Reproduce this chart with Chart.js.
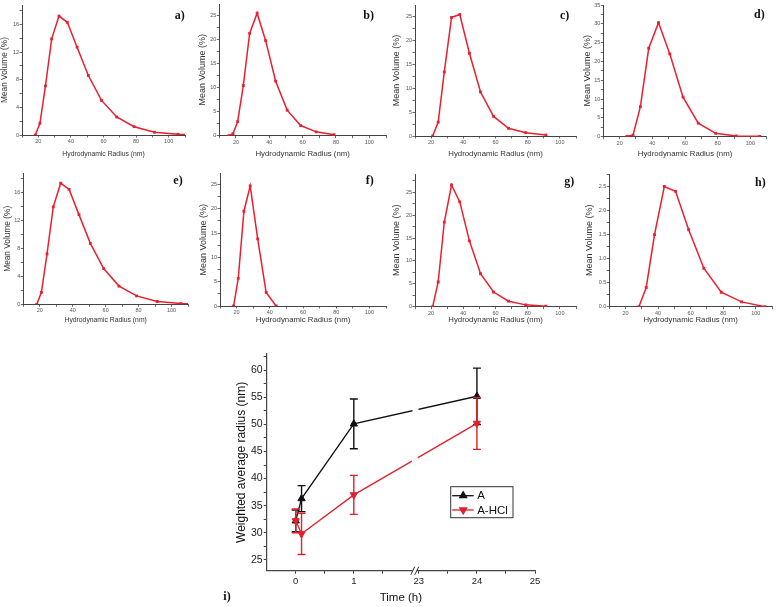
<!DOCTYPE html>
<html lang="en">
<head>
<meta charset="UTF-8" />
<title>Size distributions and weighted average radius</title>
<style>
  body { margin: 0; background: #fff; width: 776px; height: 607px; overflow: hidden; position: relative; }
  canvas { position: absolute; }
</style>
</head>
<body>
<script src="https://cdn.jsdelivr.net/npm/chart.js"></script>
<script>
// ---- data ----
const radiusBins = [15.7, 18.2, 21.0, 24.4, 28.2, 32.7, 37.8, 43.8, 50.7, 58.8, 68.1, 78.8, 91.3, 105.7, 122.4];
const volumeA = [null, 0, 1.7, 7.1, 13.9, 17.2, 16.3, 12.7, 8.6, 5.0, 2.6, 1.2, 0.4, 0.1, 0];
const volumeB = [0, 0.4, 2.9, 10.4, 21.2, 25.4, 19.7, 11.3, 5.3, 2.1, 0.8, 0.2, null, null, null];
const volumeC = [null, null, 0, 2.9, 13.4, 24.8, 25.4, 17.3, 9.2, 4.1, 1.6, 0.7, 0.2, null, null];
const volumeD = [null, null, null, 0.1, 0.4, 8.0, 23.5, 30.3, 22.0, 10.5, 3.6, 0.9, 0.2, 0.1, null];
const volumeE = [null, 0, 1.7, 7.2, 13.9, 17.3, 16.4, 12.8, 8.7, 5.1, 2.6, 1.2, 0.4, 0.1, 0];
const volumeF = [null, 0, 5.7, 19.5, 24.7, 13.8, 2.8, 0, null, null, null, null, null, null, null];
const volumeG = [null, null, 0, 5.4, 18.5, 26.6, 22.9, 14.4, 7.2, 3.2, 1.2, 0.4, 0.1, null, null];
const volumeH = [null, null, null, null, 0, 0.4, 1.5, 2.5, 2.4, 1.6, 0.8, 0.3, 0.1, 0, null];

const timeHours = [0, 0.1, 1, 24];
const radiusA = [32.2, 36.3, 50.1, 55.2];
const errorA = [2.0, 2.4, 4.6, 5.2];
const radiusAHCl = [32.2, 29.8, 37.0, 50.2];
const errorAHCl = [2.2, 3.8, 3.6, 4.8];
const timeTickHours = [0, 1, 23, 24, 25];
const timeMinorHours = [0.5, 1.5, 23.5, 24.5];

// ---- styles ----
const RED = '#e8202e';
const RED_I = '#e0202c';
const AXIS = '#444';
const SANS = '"Liberation Sans", Arial, sans-serif';
const SERIF = '"Liberation Serif", "Times New Roman", serif';
Chart.defaults.font.family = SANS;
Chart.defaults.color = '#333';

function addCanvas(id, left, top, w, h) {
  const c = document.createElement('canvas');
  c.id = id; c.width = w; c.height = h;
  c.style.left = left + 'px'; c.style.top = top + 'px';
  c.style.width = w + 'px'; c.style.height = h + 'px';
  document.body.appendChild(c);
  return c;
}

// bold panel letter
const panelLetter = {
  id: 'panelLetter',
  afterDraw(chart, args, o) {
    const ctx = chart.ctx;
    ctx.save();
    ctx.font = 'bold 12px ' + SERIF;
    ctx.fillStyle = '#111';
    ctx.textBaseline = 'middle';
    ctx.fillText(o.text, o.x, o.y);
    ctx.restore();
  }
};

// ---- small distribution panels (layout in page pixels) ----
const panels = [
  { id: 'pa', values: volumeA, letter: 'a)', left: 0,   top: 0,   w: 190, h: 160, yW: 22,   padTop: 5,    padRight: 5,   xBottom: 135,   yMax: 18.8, yStep: 4,   small: true,  yPad: 0,   xPadB: 1.5, lx: 174.7, ly: 16 },
  { id: 'pb', values: volumeB, letter: 'b)', left: 194, top: 0,   w: 196, h: 160, yW: 25.3, padTop: 3,    padRight: 4,   xBottom: 135.7, yMax: 27.3, yStep: 5,   small: false, yPad: 3.6, xPadB: 1.3, lx: 363.3, ly: 16 },
  { id: 'pc', values: volumeC, letter: 'c)', left: 388, top: 0,   w: 192, h: 160, yW: 27,   padTop: 5,    padRight: 1,   xBottom: 136,   yMax: 27.4, yStep: 5,   small: false, yPad: 3.6, xPadB: 1.0, lx: 560,   ly: 16 },
  { id: 'pd', values: volumeD, letter: 'd)', left: 579, top: 0,   w: 197, h: 160, yW: 24.3, padTop: 5,    padRight: 9.3, xBottom: 136.7, yMax: 35,   yStep: 5,   small: false, yPad: 3.6, xPadB: 1.0, lx: 754,   ly: 15 },
  { id: 'pe', values: volumeE, letter: 'e)', left: 0,   top: 160, w: 192, h: 170, yW: 23.3, padTop: 13.3, padRight: 4,   xBottom: 304.3, yMax: 18.7, yStep: 4,   small: true,  yPad: 2.3, xPadB: 5.5, lx: 173.3, ly: 180.7 },
  { id: 'pf', values: volumeF, letter: 'f)', left: 195, top: 160, w: 195, h: 170, yW: 25,   padTop: 13.3, padRight: 3.3, xBottom: 306,   yMax: 27.3, yStep: 5,   small: false, yPad: 3.6, xPadB: 5.3, lx: 365.7, ly: 180.7 },
  { id: 'pg', values: volumeG, letter: 'g)', left: 388, top: 160, w: 192, h: 170, yW: 27,   padTop: 14,   padRight: 1,   xBottom: 306.7, yMax: 29,   yStep: 5,   small: false, yPad: 3.3, xPadB: 5.3, lx: 564.3, ly: 181.7 },
  { id: 'ph', values: volumeH, letter: 'h)', left: 581, top: 160, w: 195, h: 170, yW: 28.3, padTop: 14,   padRight: 3,   xBottom: 306.7, yMax: 2.76, yStep: 0.5, small: false, yPad: 3.6, xPadB: 5.3, lx: 755,   ly: 183.3 }
];

function stepTicks(min, max, step) {
  const out = [];
  const start = Math.ceil(min / step - 1e-9) * step;
  for (let v = start; v <= max + 1e-9; v += step) out.push({ value: +v.toFixed(4) });
  return out;
}

panels.forEach(p => {
  const canvas = addCanvas(p.id, p.left, p.top, p.w, p.h);
  const points = radiusBins
    .map((r, i) => ({ x: r, y: p.values[i] }))
    .filter(pt => pt.y !== null);
  const tickFont = { size: 5.5 };
  const grid = { drawOnChartArea: false, drawTicks: true, tickLength: 2.5, color: AXIS, lineWidth: 0.8 };
  new Chart(canvas, {
    type: 'line',
    data: {
      datasets: [{
        data: points,
        borderColor: RED,
        backgroundColor: RED,
        borderWidth: 1.5,
        pointStyle: 'rect',
        pointRadius: 2,
        pointBorderWidth: 0,
        tension: 0
      }]
    },
    options: {
      responsive: false,
      animation: false,
      devicePixelRatio: 1,
      layout: { padding: { top: p.padTop, right: p.padRight, left: 0, bottom: 0 } },
      plugins: {
        legend: { display: false },
        tooltip: { enabled: false },
        panelLetter: { text: p.letter, x: p.lx - p.left, y: p.ly - p.top }
      },
      scales: {
        x: {
          type: 'linear', min: 10, max: 110,
          grid: grid,
          border: { display: true, color: AXIS, width: 1 },
          afterBuildTicks: s => { s.ticks = stepTicks(10, 110, 10); },
          afterFit: s => { s.height = p.top + p.h - p.xBottom; },
          ticks: {
            font: tickFont, color: '#555', padding: 0.5, autoSkip: false, maxRotation: 0,
            callback: v => (Math.abs(v % 20) < 1e-6 ? String(v) : '')
          },
          title: { display: true, text: 'Hydrodynamic Radius (nm)', font: { size: p.small ? 6.8 : 7.8 }, color: '#333', padding: { top: 0, bottom: p.xPadB } }
        },
        y: {
          min: 0, max: p.yMax,
          grid: grid,
          border: { display: true, color: AXIS, width: 1 },
          afterBuildTicks: s => { s.ticks = stepTicks(0, p.yMax, p.yStep / 2); },
          afterFit: s => { s.width = p.yW; },
          ticks: {
            font: tickFont, color: '#555', padding: 0.5, autoSkip: false,
            callback: v => {
              const k = v / p.yStep;
              if (Math.abs(k - Math.round(k)) > 1e-6) return '';
              return p.yStep < 1 ? v.toFixed(1) : String(v);
            }
          },
          title: { display: true, text: 'Mean Volume (%)', font: { size: p.small ? 8.3 : 9 }, color: '#333', padding: { top: p.yPad, bottom: 0 } }
        }
      }
    },
    plugins: [panelLetter]
  });
});

// ---- panel i: weighted average radius vs time (broken axis) ----
const BREAK_SHIFT = 20.88;      // hours removed between the two axis segments
const toAxis = t => (t <= 2 ? t : t - BREAK_SHIFT);

const errorBars = {
  id: 'errorBars',
  afterDatasetDraw(chart, args) {
    const ds = chart.data.datasets[args.index];
    const ys = chart.scales.y;
    const ctx = chart.ctx;
    ctx.save();
    ctx.strokeStyle = ds.borderColor;
    ctx.lineWidth = 1.4;
    args.meta.data.forEach((pt, j) => {
      const v = ds.data[j].y, e = ds.errors[j];
      const top = ys.getPixelForValue(v + e), bot = ys.getPixelForValue(v - e);
      ctx.beginPath();
      ctx.moveTo(pt.x, top); ctx.lineTo(pt.x, bot);
      ctx.moveTo(pt.x - 4, top); ctx.lineTo(pt.x + 4, top);
      ctx.moveTo(pt.x - 4, bot); ctx.lineTo(pt.x + 4, bot);
      ctx.stroke();
    });
    ctx.restore();
  }
};

const axisBreak = {
  id: 'axisBreak',
  afterDatasetsDraw(chart, args, o) {
    const { ctx, chartArea, scales } = chart;
    const bx = scales.x.getPixelForValue(o.at);
    ctx.save();
    ctx.fillStyle = '#fff';
    ctx.beginPath();
    ctx.moveTo(bx - 1.5, chartArea.top);
    ctx.lineTo(bx + 4.5, chartArea.top);
    ctx.lineTo(bx + 1.5, chartArea.bottom - 2);
    ctx.lineTo(bx - 4.5, chartArea.bottom - 2);
    ctx.closePath();
    ctx.fill();
    ctx.restore();
  },
  afterDraw(chart, args, o) {
    const { ctx, chartArea, scales } = chart;
    const bx = scales.x.getPixelForValue(o.at);
    const y = chartArea.bottom;
    ctx.save();
    ctx.fillStyle = '#fff';
    ctx.fillRect(bx - 2, y - 1.5, 4, 3);
    ctx.strokeStyle = '#333';
    ctx.lineWidth = 1;
    [-2, 2].forEach(dx => {
      ctx.beginPath();
      ctx.moveTo(bx + dx - 2, y + 4);
      ctx.lineTo(bx + dx + 2, y - 4);
      ctx.stroke();
    });
    ctx.restore();
  }
};

const legendBox = {
  id: 'legendBox',
  afterDraw(chart, args, o) {
    const ctx = chart.ctx;
    ctx.save();
    ctx.strokeStyle = '#333';
    ctx.lineWidth = 1;
    ctx.strokeRect(o.x, o.y, o.w, o.h);
    chart.data.datasets.forEach((ds, k) => {
      const y = o.y + 9 + k * 14.3;
      ctx.strokeStyle = ds.borderColor;
      ctx.fillStyle = ds.borderColor;
      ctx.lineWidth = 1.3;
      ctx.beginPath();
      ctx.moveTo(o.x + 1.5, y); ctx.lineTo(o.x + 23, y);
      ctx.stroke();
      Chart.helpers.drawPoint(ctx, { pointStyle: 'triangle', radius: 4, rotation: ds.pointRotation || 0, borderWidth: 1 }, o.x + 12.5, y);
      ctx.fillStyle = '#111';
      ctx.font = '11.5px ' + SANS;
      ctx.textBaseline = 'middle';
      ctx.fillText(ds.label, o.x + 26.5, y + 0.5);
    });
    ctx.restore();
  }
};

const iLeft = 200, iTop = 330;
const canvasI = addCanvas('pi', iLeft, iTop, 380, 277);
const xTickList = timeTickHours.map(t => ({ value: toAxis(t), label: String(t) }))
  .concat(timeMinorHours.map(t => ({ value: toAxis(t), label: '' })))
  .sort((a, b) => a.value - b.value);

new Chart(canvasI, {
  type: 'line',
  data: {
    datasets: [
      {
        label: 'A',
        data: timeHours.map((t, i) => ({ x: toAxis(t), y: radiusA[i] })),
        errors: errorA,
        borderColor: '#111',
        backgroundColor: '#111',
        borderWidth: 1.3,
        pointStyle: 'triangle',
        pointRadius: 4.2,
        pointBorderWidth: 1,
        order: 2,
        tension: 0
      },
      {
        label: 'A-HCl',
        data: timeHours.map((t, i) => ({ x: toAxis(t), y: radiusAHCl[i] })),
        errors: errorAHCl,
        borderColor: RED_I,
        backgroundColor: RED_I,
        borderWidth: 1.3,
        pointStyle: 'triangle',
        pointRotation: 180,
        pointRadius: 4.2,
        pointBorderWidth: 1,
        order: 1,
        tension: 0
      }
    ]
  },
  options: {
    responsive: false,
    animation: false,
    devicePixelRatio: 1,
    layout: { padding: { top: 24, right: 45, left: 0, bottom: 0 } },
    plugins: {
      legend: { display: false },
      tooltip: { enabled: false },
      axisBreak: { at: 2.05 },
      legendBox: { x: 250.7, y: 156.7, w: 62.3, h: 31 },
      panelLetter: { text: 'i)', x: 223.3 - iLeft, y: 597.3 - iTop }
    },
    scales: {
      x: {
        type: 'linear', min: -0.5, max: toAxis(25),
        grid: { drawOnChartArea: false, drawTicks: true, tickLength: 3, color: AXIS, lineWidth: 1 },
        border: { display: true, color: AXIS, width: 1.2 },
        afterBuildTicks: s => { s.ticks = xTickList.map(t => ({ value: t.value })); },
        afterFit: s => { s.height = 36.3; },
        ticks: {
          font: { size: 9.5 }, color: '#222', padding: 2, autoSkip: false, maxRotation: 0,
          callback: (v, i) => xTickList[i].label
        },
        title: { display: true, text: 'Time (h)', font: { size: 11.5 }, color: '#111', padding: { top: 0, bottom: 2.4 } }
      },
      y: {
        min: 23, max: 63,
        grid: { drawOnChartArea: false, drawTicks: true, tickLength: 3, color: AXIS, lineWidth: 1 },
        border: { display: true, color: AXIS, width: 1.2 },
        afterBuildTicks: s => { s.ticks = stepTicks(25, 63, 2.5); },
        afterFit: s => { s.width = 66.7; },
        ticks: {
          font: { size: 10.5 }, color: '#222', padding: 1, autoSkip: false,
          callback: v => (v % 5 === 0 ? String(v) : '')
        },
        title: { display: true, text: 'Weighted average radius (nm)', font: { size: 12 }, color: '#111', padding: { top: 34, bottom: 0 } }
      }
    }
  },
  plugins: [errorBars, axisBreak, legendBox, panelLetter]
});
</script>
</body>
</html>
